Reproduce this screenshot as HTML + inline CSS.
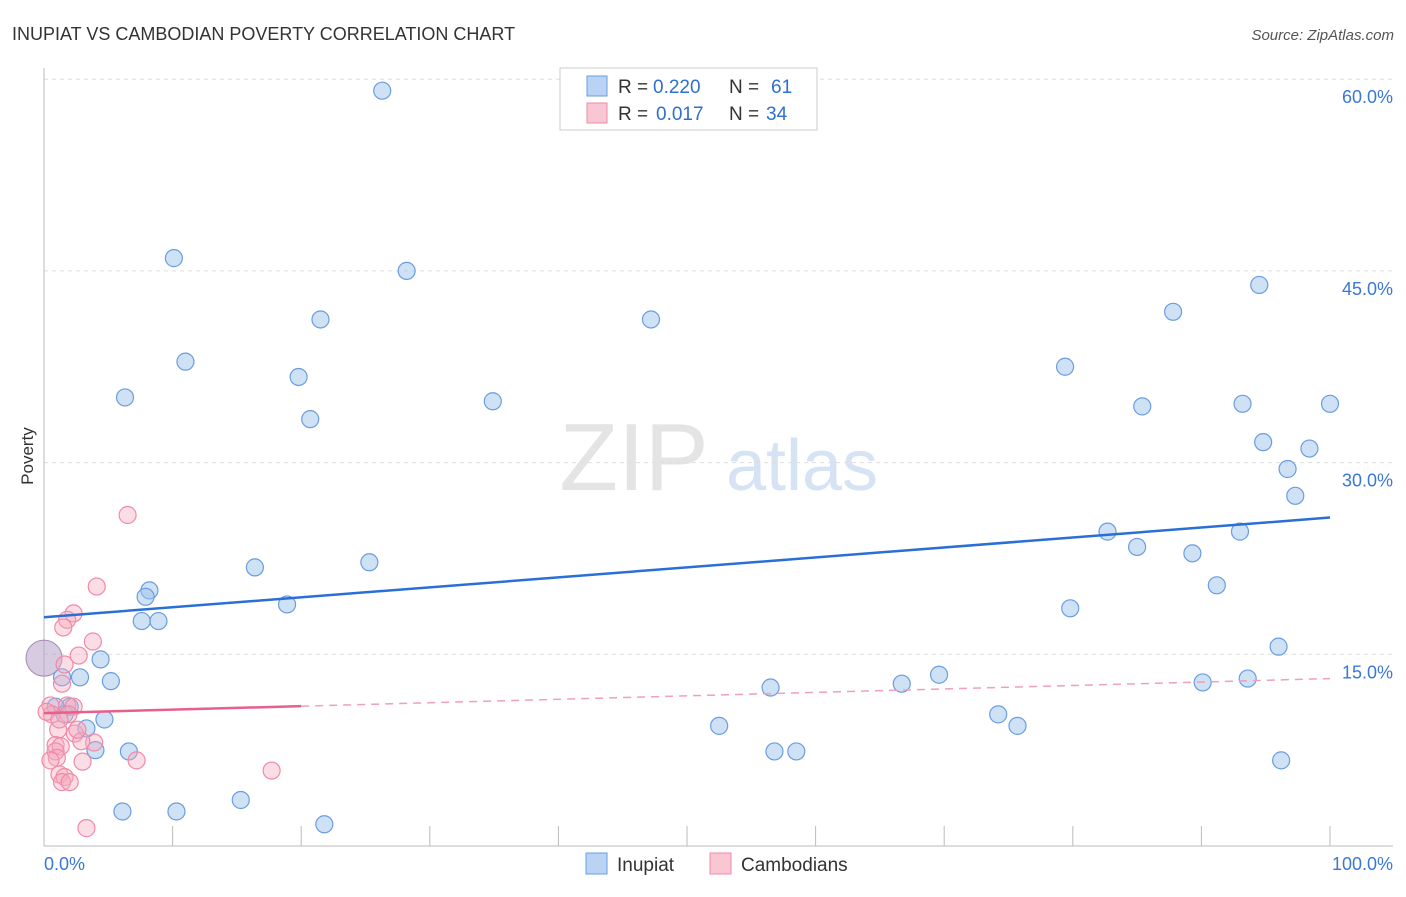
<!DOCTYPE html>
<html><head><meta charset="utf-8"><style>
body{margin:0;background:#fff;font-family:"Liberation Sans",sans-serif}
svg text{font-family:"Liberation Sans",sans-serif}
</style></head><body>
<svg id="c" width="1406" height="892">
<text x="12" y="40" font-size="18" fill="#333">INUPIAT VS CAMBODIAN POVERTY CORRELATION CHART</text>
<text x="1394" y="40" font-size="15" fill="#555" text-anchor="end" font-style="italic">Source: ZipAtlas.com</text>
<text x="33" y="456" font-size="17" fill="#333" transform="rotate(-90 33 456)" text-anchor="middle">Poverty</text>
<g><text x="634" y="490" font-size="96" fill="#e4e4e4" text-anchor="middle" font-family="Liberation Serif">ZIP</text><text x="802" y="490" font-size="72" fill="#d6e3f5" text-anchor="middle">atlas</text></g>
<g id="grid"></g><g id="pts"></g><g id="lines"></g>
<g>
<rect x="560" y="68" width="257" height="62" fill="#fff" stroke="#ccc"/>
<rect x="587" y="76" width="20" height="20" fill="#b8d3f3" stroke="#6a9de0"/>
<rect x="587" y="103" width="20" height="20" fill="#f9c6d4" stroke="#f08aa8"/>
<text x="618" y="93" font-size="19" fill="#333">R =</text><text x="653" y="93" font-size="19" fill="#2f6fd0">0.220</text>
<text x="729" y="93" font-size="19" fill="#333">N =</text><text x="771" y="93" font-size="19" fill="#2f6fd0">61</text>
<text x="618" y="120" font-size="19" fill="#333">R =</text><text x="656" y="120" font-size="19" fill="#2f6fd0">0.017</text>
<text x="729" y="120" font-size="19" fill="#333">N =</text><text x="766" y="120" font-size="19" fill="#2f6fd0">34</text>
</g>
<g>
<rect x="586" y="853" width="21" height="21" fill="#b8d3f3" stroke="#6a9de0"/><text x="617" y="871" font-size="19" fill="#333">Inupiat</text>
<rect x="710" y="853" width="21" height="21" fill="#f9c6d4" stroke="#f08aa8"/><text x="741" y="871" font-size="19" fill="#333">Cambodians</text>
</g>
<text x="44" y="870" font-size="18" fill="#3a78d8">0.0%</text>
<text x="1393" y="870" font-size="18" fill="#3a78d8" text-anchor="end">100.0%</text>
</svg>
<script>
const yTicks=[60,45,30,15];
const blueX=[26.3,10.1,28.2,21.5,47.2,11.0,6.3,19.8,20.7,34.9,16.4,25.3,8.2,7.9,7.6,8.9,18.9,4.4,2.8,5.2,1.4,2.0,0.9,3.3,4.7,4.0,6.6,6.1,10.3,15.3,21.8,79.4,87.8,94.5,85.4,93.2,100,94.8,98.4,96.7,97.3,82.7,85.0,89.3,93.0,91.2,79.8,96.0,69.6,66.7,56.5,90.1,93.6,52.5,74.2,75.7,56.8,58.5,96.2,1.6];
const blueY=[59.1,46.0,45.0,41.2,41.2,37.9,35.1,36.7,33.4,34.8,21.8,22.2,20.0,19.5,17.6,17.6,18.9,14.6,13.2,12.9,13.2,10.9,10.9,9.2,9.9,7.5,7.4,2.7,2.7,3.6,1.7,37.5,41.8,43.9,34.4,34.6,34.6,31.6,31.1,29.5,27.4,24.6,23.4,22.9,24.6,20.4,18.6,15.6,13.4,12.7,12.4,12.8,13.1,9.4,10.3,9.4,7.4,7.4,6.7,10.3];
const pinkX=[6.5,4.1,2.3,1.8,1.5,3.8,2.7,1.4,0.5,0.6,1.8,0.2,2.3,1.9,1.1,0.9,2.4,3.9,2.9,1.3,0.9,1.0,7.2,3.0,1.2,1.6,1.4,2.0,17.7,3.3,2.6,1.2,0.5,1.6];
const pinkY=[25.9,20.3,18.2,17.7,17.1,16.0,14.9,12.7,11.0,10.3,11.0,10.5,10.9,10.3,9.1,7.9,8.8,8.1,8.2,7.8,7.4,6.9,6.7,6.6,5.6,5.4,5.0,5.0,5.9,1.4,9.1,9.9,6.7,14.2];
const bigPoint=[0,14.7];
const blueTrend=[17.9,25.7];
const pinkTrend=[10.4,13.1];
const pinkSolidEnd=20;
const NS="http://www.w3.org/2000/svg";
const X=v=>44+v*12.86, Y=v=>846-v*12.78;
function mk(t,a,p){const e=document.createElementNS(NS,t);for(const k in a)e.setAttribute(k,a[k]);p.appendChild(e);return e;}
const g=document.getElementById('grid');
yTicks.forEach(t=>{
 const l=mk('line',{x1:44,x2:1393,y1:Y(t),y2:Y(t),stroke:'#ddd','stroke-dasharray':'4,4'},g);
 
 
 const tx=mk('text',{x:1393,y:Y(t)+24,'font-size':18,fill:'#3a78d8','text-anchor':'end'},g);tx.textContent=t.toFixed(1)+'%';
 
 
});
const ax=mk('line',{x1:44,x2:44,y1:68,y2:846,stroke:'#bbb'},g);


const bx=mk('line',{x1:44,x2:1393,y1:846,y2:846,stroke:'#bbb'},g);


for(let i=0;i<=10;i++){const t=mk('line',{x1:X(i*10),x2:X(i*10),y1:826,y2:846,stroke:'#bbb'},g);
 
 }
const p=document.getElementById('pts');
const bp=mk('circle',{cx:X(bigPoint[0]),cy:Y(bigPoint[1]),r:18,fill:'rgba(180,160,200,0.55)',stroke:'#a58ab8'},p);


blueX.forEach((x,i)=>{const c=mk('circle',{cx:X(x),cy:Y(blueY[i]),r:8.5,fill:'rgba(160,196,236,0.5)',stroke:'#6a9de0','stroke-width':1.2},p);
 
 });
pinkX.forEach((x,i)=>{const c=mk('circle',{cx:X(x),cy:Y(pinkY[i]),r:8.5,fill:'rgba(245,170,190,0.4)',stroke:'#f08aa8','stroke-width':1.2},p);
 
 });
const L=document.getElementById('lines');
const b=mk('line',{x1:X(0),y1:Y(blueTrend[0]),x2:X(100),y2:Y(blueTrend[1]),stroke:'#2a6fd6','stroke-width':2.5},L);


const pm=pinkTrend[0]+(pinkTrend[1]-pinkTrend[0])*pinkSolidEnd/100;
const ps=mk('line',{x1:X(0),y1:Y(pinkTrend[0]),x2:X(pinkSolidEnd),y2:Y(pm),stroke:'#e8608a','stroke-width':2.5},L);


const pd=mk('line',{x1:X(pinkSolidEnd),y1:Y(pm),x2:X(100),y2:Y(pinkTrend[1]),stroke:'#f0a0b8','stroke-width':1.5,'stroke-dasharray':'8,6'},L);


</script>
</body></html>
